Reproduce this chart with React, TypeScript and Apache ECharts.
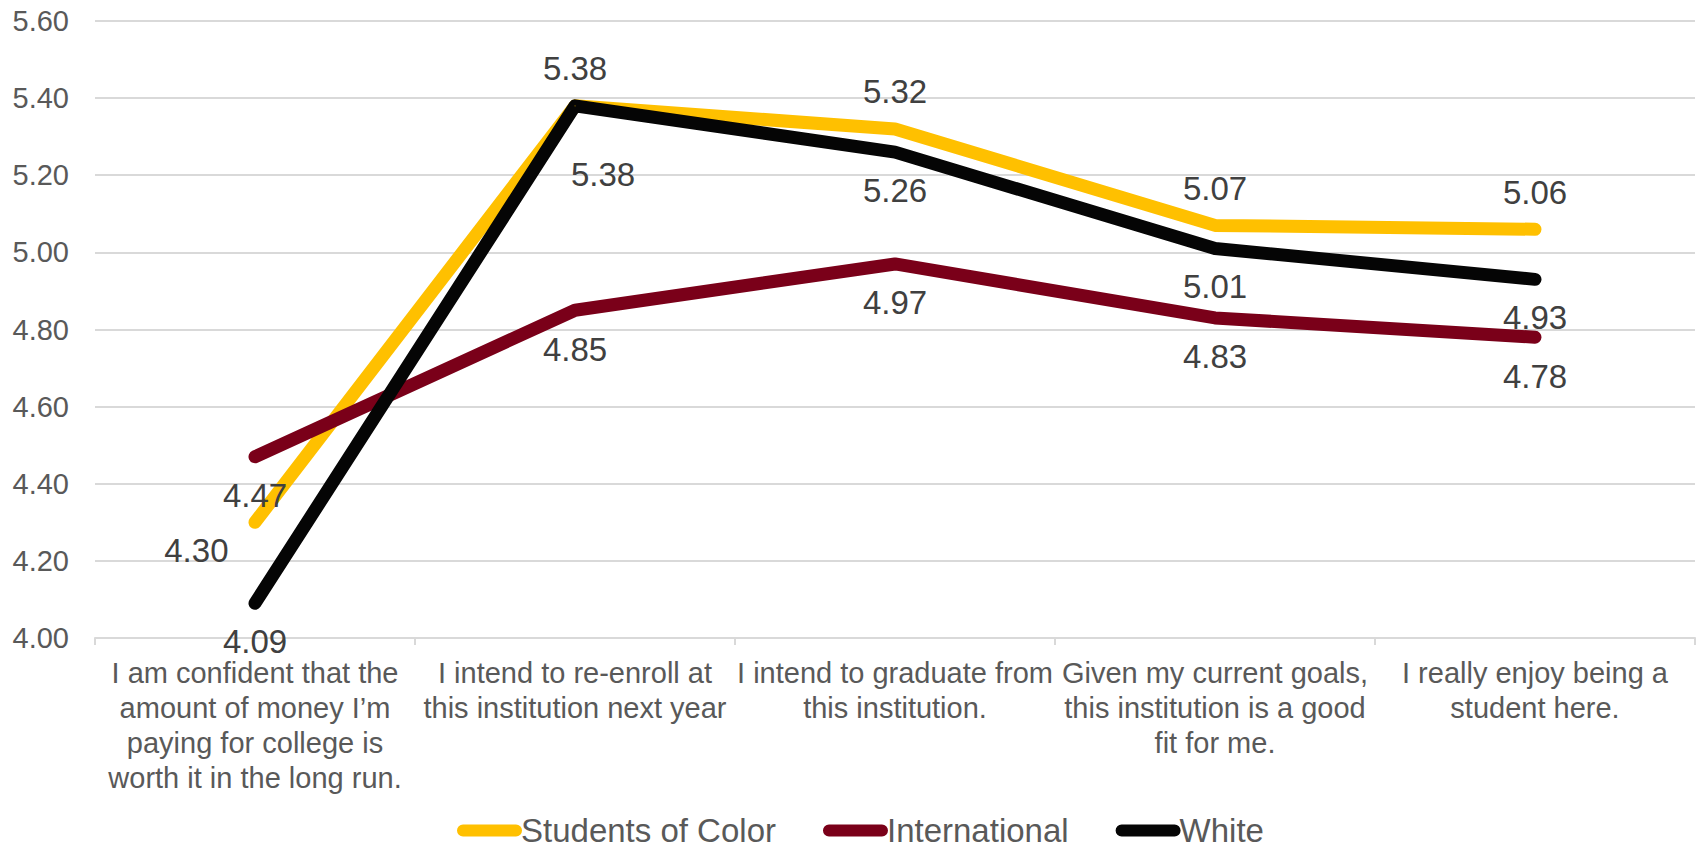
import React, { useEffect, useRef } from "react";
import * as echarts from "echarts";

// Survey statements (x categories), wrapped the way they are printed under the axis
const categories = [
  "I am confident that the\namount of money I’m\npaying for college is\nworth it in the long run.",
  "I intend to re-enroll at\nthis institution next year",
  "I intend to graduate from\nthis institution.",
  "Given my current goals,\nthis institution is a good\nfit for me.",
  "I really enjoy being a\nstudent here.",
];

// Mean agreement score per group
const studentsOfColor = [4.3, 5.38, 5.32, 5.07, 5.06];
const international = [4.47, 4.85, 4.97, 4.83, 4.78];
const white = [4.09, 5.38, 5.26, 5.01, 4.93];

const seriesNames = ["Students of Color", "International", "White"];

// Y-axis range and step
const yMin = 4.0;
const yMax = 5.6;
const yStep = 0.2;

const FONT = "'Liberation Sans', Arial, Helvetica, sans-serif";
const COLORS = ["#FFC000", "#7A0019", "#050505"];

// Default label placement per series, plus a few per-point nudges to keep labels apart
const defaultPlacement: Record<string, any> = {
  "Students of Color": { position: "top", distance: 20 },
  International: { position: "bottom", distance: 22 },
  White: { position: "bottom", distance: 21 },
};
const pointPlacement: Record<string, Record<number, any>> = {
  "Students of Color": { 0: { position: "left", distance: 26, offset: [0, 28] } },
  White: { 1: { offset: [28, 31] } },
};

function buildSeries(name: string, values: number[], color: string) {
  const base = defaultPlacement[name];
  const tweaks = pointPlacement[name] || {};
  return {
    name,
    type: "line",
    color,
    symbol: "circle",
    symbolSize: 1,
    itemStyle: { color },
    lineStyle: { color, width: 13, cap: "round", join: "round" },
    label: {
      show: true,
      ...base,
      color: "#404040",
      fontFamily: FONT,
      fontSize: 33,
      lineHeight: 33,
      formatter: (p: any) => Number(p.value).toFixed(2),
    },
    data: values.map((v, i) =>
      tweaks[i] ? { value: v, label: { ...tweaks[i] } } : { value: v }
    ),
  };
}

export default function App() {
  const ref = useRef<HTMLDivElement>(null);

  useEffect(() => {
    if (!ref.current) return;
    const chart = echarts.init(ref.current, undefined, { renderer: "svg" });
    const legendIcon = "path://M6,0 H59 A6,6 0 0 1 59,12 H6 A6,6 0 0 1 6,0 Z";

    chart.setOption({
      animation: false,
      backgroundColor: "#ffffff",
      textStyle: { fontFamily: FONT },
      grid: { left: 95, right: 3, top: 21, bottom: 212, containLabel: false },
      legend: {
        left: 452,
        top: 809,
        itemWidth: 65,
        itemHeight: 13,
        itemGap: 47,
        icon: legendIcon,
        data: seriesNames,
        textStyle: {
          color: "#595959",
          fontSize: 33,
          lineHeight: 33,
          fontFamily: FONT,
          padding: [0, 0, 0, -6],
        },
      },
      xAxis: {
        type: "category",
        data: categories,
        boundaryGap: true,
        axisLine: { show: true, lineStyle: { color: "#d9d9d9", width: 2 } },
        axisTick: { show: true, length: 7, lineStyle: { color: "#d9d9d9", width: 2 } },
        axisLabel: {
          interval: 0,
          margin: 17,
          color: "#595959",
          fontSize: 29,
          lineHeight: 35,
          fontFamily: FONT,
          align: "center",
        },
        splitLine: { show: false },
      },
      yAxis: {
        type: "value",
        min: yMin,
        max: yMax,
        interval: yStep,
        axisLine: { show: false },
        axisTick: { show: false },
        axisLabel: {
          margin: 26,
          color: "#595959",
          fontSize: 29,
          fontFamily: FONT,
          formatter: (v: number) => v.toFixed(2),
        },
        splitLine: { show: true, lineStyle: { color: "#d9d9d9", width: 2 } },
      },
      series: [
        buildSeries(seriesNames[0], studentsOfColor, COLORS[0]),
        buildSeries(seriesNames[1], international, COLORS[1]),
        buildSeries(seriesNames[2], white, COLORS[2]),
      ],
    });

    return () => chart.dispose();
  }, []);

  return (
    <div
      ref={ref}
      style={{ position: "fixed", left: 0, top: 0, width: 1698, height: 850, background: "#fff" }}
    />
  );
}
